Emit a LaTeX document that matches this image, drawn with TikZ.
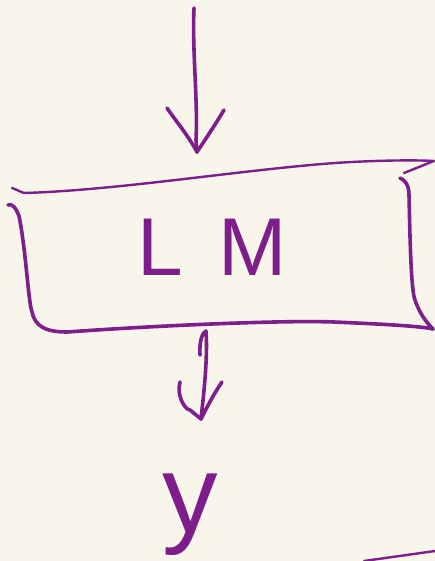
\documentclass[tikz,border=0pt]{standalone}
\usepackage{fontspec}
\setmainfont{Liberation Sans}
\definecolor{paper}{HTML}{F8F5EA}
\definecolor{ink}{HTML}{7D1E8C}
\tikzset{
  pen/.style={draw=ink, line width=3.6pt, line cap=round, line join=round},
  thinpen/.style={draw=ink, line width=2.4pt, line cap=round, line join=round},
  label/.style={text=ink, inner sep=0pt, anchor=base west}
}
\begin{document}
\begin{tikzpicture}[x=1pt, y=-1pt]
  % paper
  \fill[paper] (0,0) rectangle (435,561);
  \useasboundingbox (0,0) rectangle (435,561);

  % labels
  \node[label, font=\fontsize{82}{82}\selectfont] (lm) at (137,275) {L\hspace{36pt}M};
  \node[label, font=\fontsize{111}{111}\selectfont] (y) at (162,532) {y};

  % anchor points of the sketched arrows
  \coordinate (inTop) at (194,8);
  \coordinate (inTip) at (197,152);
  \coordinate (outTop) at (206,331);
  \coordinate (outTip) at (201,419);

  % incoming arrow
  \draw[pen] (inTop) .. controls (192,50) and (198,100) .. (196,140) -- (inTip);
  \draw[pen] (167,108) .. controls (175,120) and (188,135) .. (inTip)
             .. controls (205,140) and (215,125) .. (224,110);

  % box
  \draw[thinpen] (12,188) .. controls (18,190) and (22,193) .. (25,193)
       .. controls (120,190) and (240,170) .. (335,163)
       .. controls (380,160) and (420,160) .. (434,161) -- (404,173);
  \draw[pen] (8,205) .. controls (12,203) and (16,208) .. (19,216)
       .. controls (26,250) and (28,300) .. (32,312)
       .. controls (35,326) and (45,332) .. (67,332)
       .. controls (150,326) and (280,320) .. (334,322)
       .. controls (380,324) and (420,326) .. (433,329);
  \draw[pen] (400,178) .. controls (405,180) and (409,185) .. (409,195)
       .. controls (410,240) and (411,290) .. (415,300)
       .. controls (420,315) and (428,324) .. (433,329);

  % outgoing arrow
  \draw[pen] (200,355) .. controls (199,340) and (203,332) .. (outTop)
       .. controls (208,360) and (203,400) .. (outTip);
  \draw[pen] (180,382) .. controls (176,395) and (185,410) .. (190,410)
       -- (outTip) .. controls (208,405) and (215,392) .. (222,382);

  % stray stroke at the lower right
  \draw[thinpen] (364,561) -- (435,551);
\end{tikzpicture}
\end{document}
